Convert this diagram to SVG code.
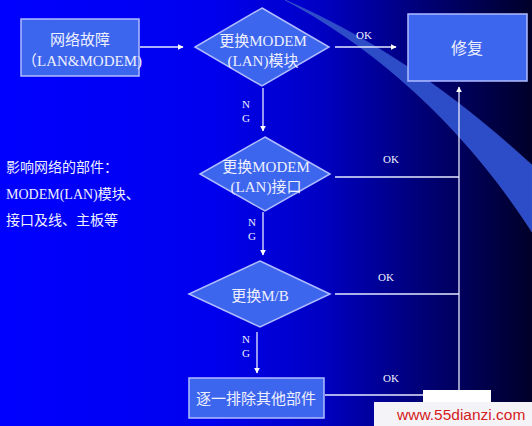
<svg xmlns="http://www.w3.org/2000/svg" width="532" height="426" viewBox="0 0 532 426">
<defs>
<linearGradient id="bg" x1="0" y1="0" x2="1" y2="0">
<stop offset="0" stop-color="#0000ff"/>
<stop offset="0.4" stop-color="#0000ee"/>
<stop offset="0.6" stop-color="#0000c4"/>
<stop offset="0.8" stop-color="#000074"/>
<stop offset="1" stop-color="#00002a"/>
</linearGradient>
<marker id="ah" viewBox="0 0 10 10" refX="9" refY="5" markerWidth="6" markerHeight="6" orient="auto" markerUnits="userSpaceOnUse">
<path d="M0,0 L10,5 L0,10 Z" fill="#ffffff"/>
</marker>
<style>
.node{fill:#3d66ee;stroke:#b0bcff;stroke-width:1.5}
.t{fill:#eef0ff;font-family:"Liberation Serif","Noto Sans CJK SC",serif;font-size:15px;text-anchor:middle}
.l{fill:#eef0ff;font-family:"Liberation Serif","Noto Sans CJK SC",serif;font-size:14px}
.s{fill:#eef0ff;font-family:"Liberation Serif",serif;font-size:11px;text-anchor:middle}
.c{fill:none;stroke:#e6eaff;stroke-width:1.3}
</style>
</defs>
<rect width="532" height="426" fill="url(#bg)"/>
<path d="M285,0 C370,45 460,120 532,232 L532,165 C480,118 400,50 285,0 Z" fill="#2d4cc8" stroke="#3a58d0" stroke-width="0.6"/>
<g id="side-note">
<text class="l" x="6" y="172">影响网络的部件：</text>
<text class="l" x="6" y="199">MODEM(LAN)模块、</text>
<text class="l" x="6" y="225">接口及线、主板等</text>
</g>
<g id="connectors">
<line class="c" x1="140" y1="47" x2="183" y2="47" marker-end="url(#ah)"/>
<line class="c" x1="335" y1="47" x2="396" y2="47" marker-end="url(#ah)"/>
<line class="c" x1="263" y1="88" x2="263" y2="131" marker-end="url(#ah)"/>
<line class="c" x1="263" y1="212" x2="263" y2="255" marker-end="url(#ah)"/>
<line class="c" x1="257" y1="332" x2="257" y2="373" marker-end="url(#ah)"/>
<line class="c" x1="335" y1="177" x2="459" y2="177"/>
<line class="c" x1="335" y1="294" x2="459" y2="294"/>
<line class="c" x1="325" y1="395" x2="459" y2="395"/>
<line class="c" x1="459" y1="395" x2="459" y2="87" marker-end="url(#ah)"/>
<text class="s" x="364" y="39">OK</text>
<text class="s" x="391" y="163">OK</text>
<text class="s" x="386" y="281">OK</text>
<text class="s" x="391" y="382">OK</text>
<text class="s" x="246" y="108">N</text>
<text class="s" x="246" y="122">G</text>
<text class="s" x="252" y="226">N</text>
<text class="s" x="252" y="240">G</text>
<text class="s" x="246" y="343">N</text>
<text class="s" x="246" y="357">G</text>
</g>
<g id="fault">
<rect class="node" x="21" y="19" width="118" height="57"/>
<text class="t" x="80" y="45">网络故障</text>
<text class="t" x="82" y="66">（LAN&amp;MODEM)</text>
</g>
<g id="modem-module">
<polygon class="node" points="262,8 329,47 262,86 195,47"/>
<text class="t" x="263" y="46">更换MODEM</text>
<text class="t" x="263" y="66">(LAN)模块</text>
</g>
<g id="repair">
<rect class="node" x="408" y="14" width="119" height="67"/>
<text class="t" x="467" y="54" style="font-size:16px">修复</text>
</g>
<g id="modem-port">
<polygon class="node" points="265,137 330,174 265,211 200,174"/>
<text class="t" x="266" y="172">更换MODEM</text>
<text class="t" x="266" y="192">(LAN)接口</text>
</g>
<g id="mainboard">
<polygon class="node" points="260,261 330,294 260,327 189,294"/>
<text class="t" x="260" y="301">更换M/B</text>
</g>
<g id="others">
<rect class="node" x="189" y="378" width="135" height="40"/>
<text class="t" x="256" y="404">逐一排除其他部件</text>
</g>
<g id="watermark">
<rect x="423" y="390" width="68" height="13" fill="#ffffff"/>
<rect x="374" y="402" width="158" height="24" fill="#f4f4f8"/>
<text x="397" y="420" style="fill:#d42020;font-family:'Liberation Sans',sans-serif;font-size:15.5px">www.55dianzi.com</text>
</g>
</svg>
